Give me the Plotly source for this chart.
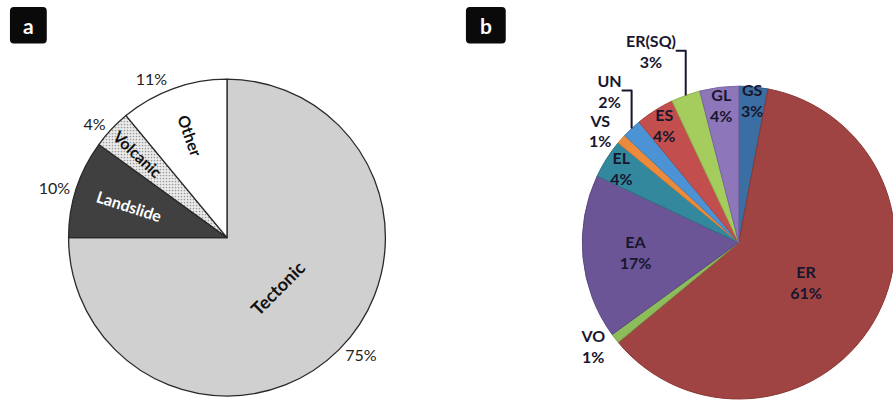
import math
import plotly.graph_objects as go

W, H = 901, 404

# ---- Panel a data ----
a_labels = ["Tectonic", "Landslide", "Volcanic", "Other"]
a_values = [75, 10, 4, 11]
a_colors = ["#d0d0d0", "#404040", "#ececec", "#ffffff"]
a_inner_text = ["", "Landslide", "Volcanic", "Other"]
a_inner_color = ["#111111", "#ffffff", "#111111", "#111111"]

# ---- Panel b data ----
b_labels = ["GS", "ER", "VO", "EA", "EL", "VS", "UN", "ES", "ER(SQ)", "GL"]
b_values = [3, 61, 1, 17, 4, 1, 2, 4, 3, 4]
b_colors = ["#3b6fa3", "#9f4442", "#8cbd5a", "#6b5596", "#33889e",
            "#ee8a3c", "#4b93d4", "#c24f4d", "#a5cd5d", "#8d76ba"]
b_lines = ["#2f5a86", "#8a3836", "#78a64a", "#5a4782", "#2a7486",
           "#d27a34", "#3f7fb8", "#a84341", "#8fb44f", "#7865a3"]
b_textpos = ["inside", "inside", "outside", "inside", "inside",
             "outside", "outside", "inside", "outside", "inside"]


def dom(cx, cy, r):
    """pixel centre and radius -> paper domain"""
    return dict(x=[(cx - r) / W, (cx + r) / W],
                y=[1 - (cy + r) / H, 1 - (cy - r) / H])


FONT = "Lato"
A_CX, A_CY, A_R = 228, 240, 160
dom_a = dom(A_CX, A_CY, A_R)
dom_b = dom(742, 245, 158)
clear = ["rgba(0,0,0,0)"] * len(a_values)

fig = go.Figure()

# pie a - filled slices with radial labels
fig.add_trace(go.Pie(
    labels=a_labels, values=a_values, sort=False, direction="clockwise",
    rotation=0, domain=dom_a, text=a_inner_text, textinfo="text",
    textposition="inside", insidetextorientation="radial",
    textfont=dict(family=FONT, size=16, color=a_inner_color, weight="bold"),
    marker=dict(colors=a_colors,
                line=dict(color="#2a2a2a", width=1.3),
                pattern=dict(shape=["", "", ".", ""],
                             bgcolor=a_colors,
                             fgcolor="#9a9a9a", size=3, solidity=0.25)),
    hoverinfo="skip", showlegend=False,
))
# pie a - percentages outside
fig.add_trace(go.Pie(
    labels=a_labels, values=a_values, sort=False, direction="clockwise",
    rotation=0, domain=dom_a, texttemplate="%{value}%",
    textposition="outside",
    outsidetextfont=dict(family=FONT, size=17, color="#222222"),
    marker=dict(colors=clear, line=dict(width=0)),
    hoverinfo="skip", showlegend=False,
))

# tangential label for the large "Tectonic" slice, placed at its mid-angle
total_a = sum(a_values)
mid_deg = 360 * (a_values[0] / 2) / total_a          # clockwise from 12 o'clock
rad = math.radians(mid_deg)
tx = A_CX + 0.45 * A_R * math.sin(rad)
ty = A_CY - 0.45 * A_R * math.cos(rad)
fig.add_annotation(text="<b>Tectonic</b>", xref="paper", yref="paper",
                   x=tx / W, y=1 - ty / H, showarrow=False,
                   xanchor="center", yanchor="middle",
                   textangle=mid_deg - 180,
                   font=dict(family=FONT, size=18, color="#111111"))

# pie b
fig.add_trace(go.Pie(
    labels=b_labels, values=b_values, sort=False, direction="clockwise",
    rotation=0, domain=dom_b, texttemplate="%{label}<br>%{value}%",
    textposition=b_textpos, insidetextorientation="horizontal",
    insidetextfont=dict(family=FONT, size=16, color="#18162e", weight="bold"),
    outsidetextfont=dict(family=FONT, size=16, color="#18162e", weight="bold"),
    marker=dict(colors=b_colors, line=dict(color=b_lines, width=1)),
    hoverinfo="skip", showlegend=False,
))


def rounded_box(x0, y0, x1, y1, rad=4):
    px = lambda v: v / W
    py = lambda v: 1 - v / H
    return (f"M {px(x0 + rad)},{py(y0)} L {px(x1 - rad)},{py(y0)} "
            f"Q {px(x1)},{py(y0)} {px(x1)},{py(y0 + rad)} "
            f"L {px(x1)},{py(y1 - rad)} Q {px(x1)},{py(y1)} {px(x1 - rad)},{py(y1)} "
            f"L {px(x0 + rad)},{py(y1)} Q {px(x0)},{py(y1)} {px(x0)},{py(y1 - rad)} "
            f"L {px(x0)},{py(y0 + rad)} Q {px(x0)},{py(y0)} {px(x0 + rad)},{py(y0)} Z")


panel_boxes = {"a": (10, 7, 47, 44), "b": (468, 7, 508, 44)}
for letter, (x0, y0, x1, y1) in panel_boxes.items():
    fig.add_shape(type="path", path=rounded_box(x0, y0, x1, y1),
                  xref="paper", yref="paper", fillcolor="#0a0a0a",
                  line=dict(width=0))
    fig.add_annotation(text=f"<b>{letter}</b>", xref="paper", yref="paper",
                       x=(x0 + x1) / 2 / W, y=1 - (y0 + y1) / 2 / H,
                       showarrow=False, xanchor="center", yanchor="middle",
                       font=dict(family=FONT, size=21, color="white"))

fig.update_layout(
    width=W, height=H, margin=dict(l=0, r=0, t=0, b=0),
    paper_bgcolor="white", plot_bgcolor="white",
    uniformtext=dict(minsize=16, mode="show"),
)

fig.write_html(
    "out.html",
    config={"displayModeBar": False},
    post_script="document.body.style.margin='0';document.body.style.overflow='hidden';",
)
